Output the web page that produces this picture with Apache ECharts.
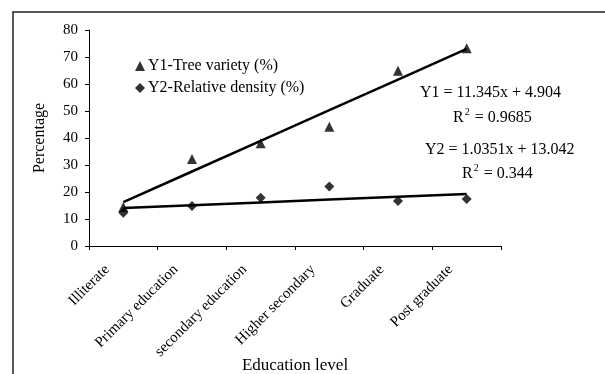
<!DOCTYPE html>
<html>
<head>
<meta charset="utf-8">
<script src="https://cdn.jsdelivr.net/npm/echarts@6/dist/echarts.min.js"></script>
<style>
html,body{margin:0;padding:0;background:#fff;}
#chart{width:605px;height:374px;}
</style>
</head>
<body>
<div id="chart"></div>
<script>
const categories = ['Illiterate', 'Primary education', 'secondary education', 'Higher secondary', 'Graduate', 'Post graduate'];
const treeVariety = [14.4, 32.2, 38.1, 44.2, 64.9, 73.2];
const relativeDensity = [12.3, 14.8, 17.9, 22.0, 16.7, 17.4];
const yTicks = [0, 10, 20, 30, 40, 50, 60, 70, 80];
// Trendline coefficients as printed on the chart
const trend1 = { slope: 11.345, intercept: 4.904, r2: '0.9685' };
const trend2 = { slope: 1.0351, intercept: 13.042, r2: '0.344' };

const trend1Values = categories.map((c, i) => +(trend1.slope * (i + 1) + trend1.intercept).toFixed(3));
const trend2Values = categories.map((c, i) => +(trend2.slope * (i + 1) + trend2.intercept).toFixed(3));

const FONT = '"Liberation Serif", "Times New Roman", serif';
const chart = echarts.init(document.getElementById('chart'), null, { renderer: 'canvas' });

const supRich = {
  b: { fontFamily: FONT, fontSize: 16, fill: '#000', verticalAlign: 'bottom' },
  s: { fontFamily: FONT, fontSize: 10, fill: '#000', verticalAlign: 'top', padding: [0, 1, 9, 1] }
};

chart.setOption({
  animation: false,
  backgroundColor: '#fff',
  textStyle: { fontFamily: FONT, color: '#000' },
  grid: { left: 89, right: 104, top: 30, bottom: 128, containLabel: false, outerBoundsMode: 'none' },
  legend: {
    orient: 'vertical',
    left: 130,
    top: 53,
    itemGap: 6,
    itemWidth: 10,
    itemHeight: 10,
    textStyle: { fontFamily: FONT, fontSize: 16, color: '#000', padding: [0, 0, 0, -2] },
    data: [
      { name: 'Y1-Tree variety (%)', icon: 'triangle' },
      { name: 'Y2-Relative density (%)', icon: 'diamond' }
    ]
  },
  xAxis: {
    type: 'category',
    data: categories,
    boundaryGap: true,
    name: 'Education level',
    nameLocation: 'middle',
    nameGap: 111,
    nameMoveOverlap: false,
    nameTextStyle: { fontFamily: FONT, fontSize: 17, color: '#000' },
    axisLine: { lineStyle: { color: '#000', width: 1 } },
    axisTick: { show: true, length: 4, inside: false, alignWithLabel: false, lineStyle: { color: '#000' } },
    axisLabel: {
      rotate: 45,
      interval: 0,
      margin: 5,
      padding: [0, 23, 0, 0],
      fontFamily: FONT,
      fontSize: 15,
      color: '#000'
    },
    splitLine: { show: false }
  },
  yAxis: {
    type: 'value',
    min: yTicks[0],
    max: yTicks[yTicks.length - 1],
    interval: yTicks[1] - yTicks[0],
    name: 'Percentage',
    nameLocation: 'middle',
    nameGap: 41,
    nameRotate: 90,
    nameMoveOverlap: false,
    nameTextStyle: { fontFamily: FONT, fontSize: 16, color: '#000' },
    axisLine: { show: true, lineStyle: { color: '#000', width: 1 } },
    axisTick: { show: true, length: 4, lineStyle: { color: '#000' } },
    axisLabel: { margin: 11, fontFamily: FONT, fontSize: 15, color: '#000' },
    splitLine: { show: false }
  },
  series: [
    {
      name: 'Y1-Tree variety (%)',
      type: 'scatter',
      symbol: 'triangle',
      symbolSize: 10,
      itemStyle: { color: '#000' },
      data: treeVariety,
      z: 5
    },
    {
      name: 'Y2-Relative density (%)',
      type: 'scatter',
      symbol: 'diamond',
      symbolSize: 10,
      itemStyle: { color: '#000' },
      data: relativeDensity,
      z: 5
    },
    {
      name: 'Trend Y1',
      type: 'line',
      data: trend1Values,
      showSymbol: false,
      symbol: 'none',
      lineStyle: { color: '#000', width: 2.5 },
      z: 3
    },
    {
      name: 'Trend Y2',
      type: 'line',
      data: trend2Values,
      showSymbol: false,
      symbol: 'none',
      lineStyle: { color: '#000', width: 2.5 },
      z: 3
    }
  ],
  graphic: [
    {
      type: 'rect',
      shape: { x: 13, y: 12, width: 620, height: 420 },
      style: { fill: 'none', stroke: '#222', lineWidth: 1.5 },
      silent: true
    },
    {
      type: 'text', left: 420, top: 85,
      style: { text: 'Y1 = 11.345x + 4.904', font: '16px ' + FONT, fill: '#000' }
    },
    {
      type: 'text', left: 453, top: 107,
      style: { text: '{b|R}{s|2}{b| = ' + trend1.r2 + '}', rich: supRich }
    },
    {
      type: 'text', left: 425, top: 142,
      style: { text: 'Y2 = 1.0351x + 13.042', font: '16px ' + FONT, fill: '#000' }
    },
    {
      type: 'text', left: 462, top: 163,
      style: { text: '{b|R}{s|2}{b| = ' + trend2.r2 + '}', rich: supRich }
    }
  ]
});
</script>
</body>
</html>
